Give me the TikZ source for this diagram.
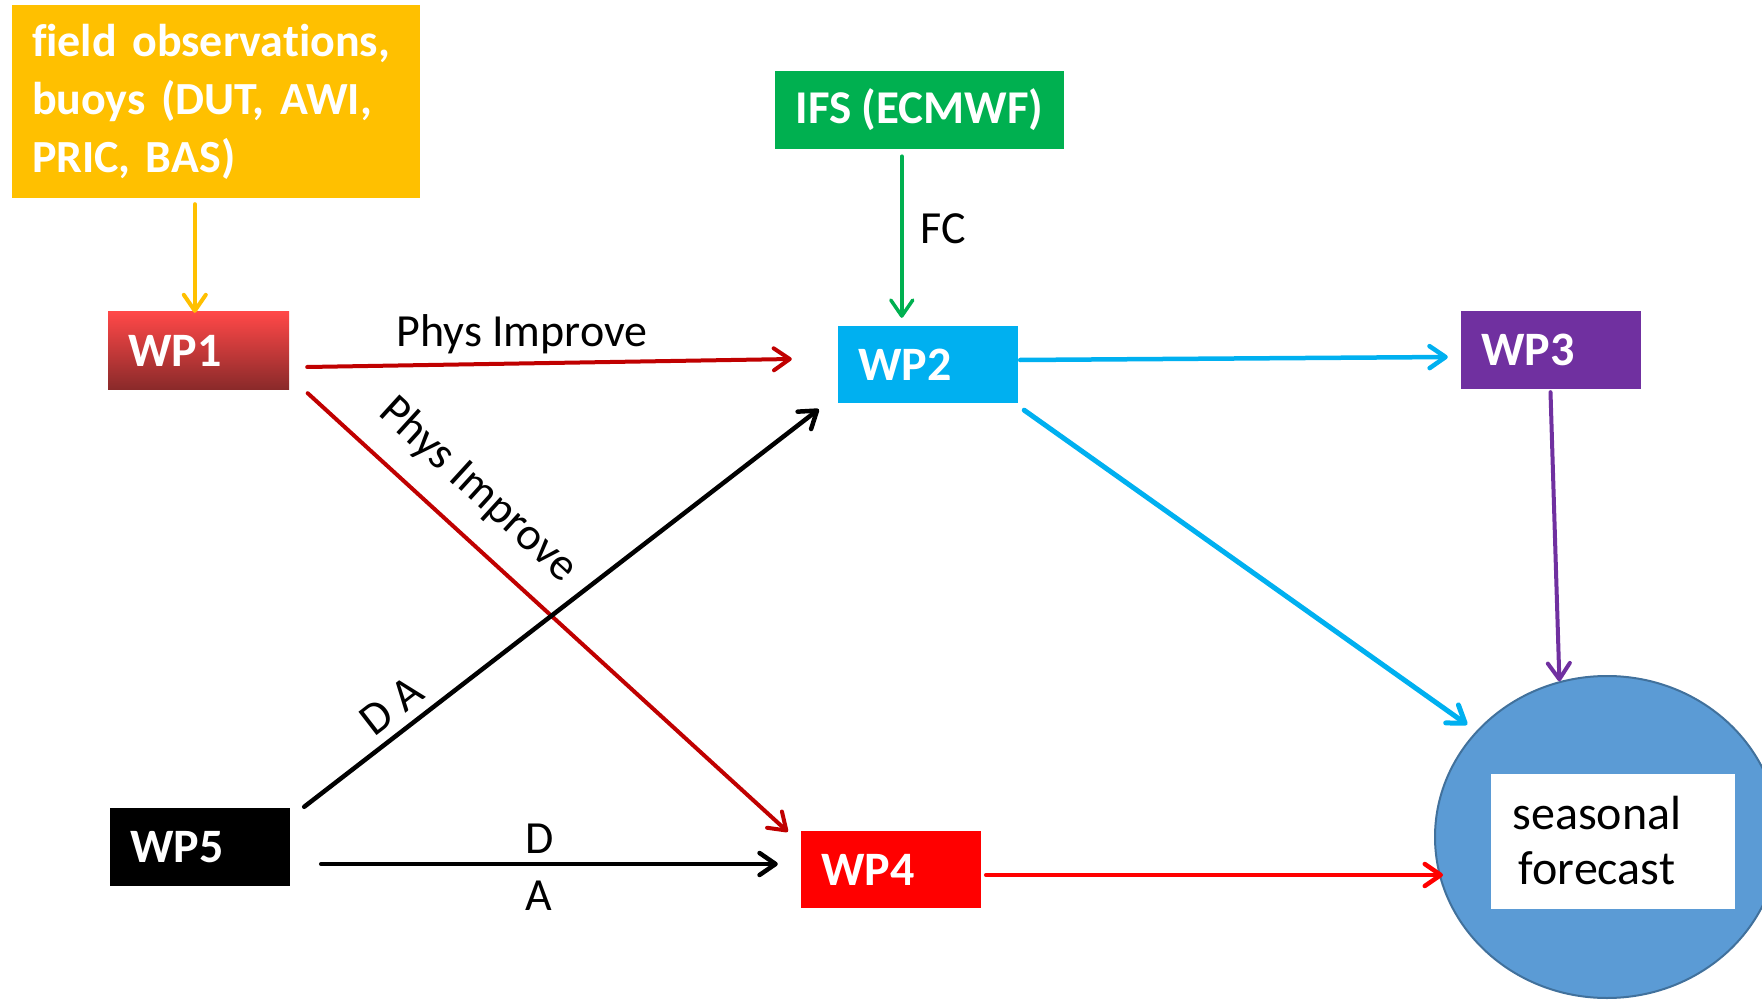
\documentclass[tikz,border=0pt]{standalone}
\usepackage{fontspec}
\setmainfont{Carlito}[Ligatures=NoCommon]
\usetikzlibrary{arrows.meta,calc,shapes.geometric}
\definecolor{cyellow}{HTML}{FFC000}
\definecolor{cgreen}{HTML}{00B050}
\definecolor{cblue}{HTML}{00B0F0}
\definecolor{cpurple}{HTML}{7030A0}
\definecolor{cred}{HTML}{FF0000}
\definecolor{cdarkred}{HTML}{C00000}
\definecolor{cwpatop}{HTML}{FF4848}
\definecolor{cwpamid}{HTML}{D83C3C}
\definecolor{cwpabot}{HTML}{8A2A2A}
\definecolor{ccircle}{HTML}{5B9BD5}
\definecolor{ccircleb}{HTML}{41719C}
\begin{document}
\begin{tikzpicture}[x=1pt,y=-1pt,
  wpbox/.style={rectangle, minimum width=180pt, minimum height=77pt, text width=140pt,
    inner xsep=20pt, inner ysep=0pt, align=left, text=white,
    font=\fontsize{48}{58}\selectfont\bfseries},
  conn/.style={line width=4.5pt, line cap=round,
    -{Straight Barb[length=16pt,width=22pt,line cap=round,line join=round]}},
  lbl/.style={font=\fontsize{46}{55}\selectfont, inner sep=0pt, text=black}
]
\path[fill=white] (0,0) rectangle (1762,1000);
\useasboundingbox (0,0) rectangle (1762,1000);

% nodes
\node[rectangle, fill=cyellow, minimum width=408pt, minimum height=193pt, text width=368pt,
  inner xsep=20pt, inner ysep=0pt, align=left, text=white,
  font=\fontsize{46}{58}\selectfont\bfseries] (obs) at (216,101.5)
  {field observations,\\buoys (DUT, AWI,\\PRIC, BAS)};
\node[wpbox, top color=cwpatop, middle color=cwpamid, bottom color=cwpabot, minimum width=181pt] (wp1) at (198.5,350.5) {WP1};
\node[rectangle, fill=cgreen, minimum width=289pt, minimum height=78pt, inner sep=0pt, text=white,
  font=\fontsize{47}{58}\selectfont\bfseries] (ifs) at (919.5,110) {IFS (ECMWF)};
\node[wpbox, fill=cblue] (wp2) at (928,364.5) {WP2};
\node[wpbox, fill=cpurple, minimum height=78pt] (wp3) at (1551,350) {WP3};
\node[wpbox, fill=cred] (wp4) at (891,869.5) {WP4};
\node[wpbox, fill=black, minimum height=78pt] (wp5) at (200,847) {WP5};
\node[ellipse, fill=ccircle, draw=ccircleb, line width=2pt, minimum width=344pt, minimum height=322pt, inner sep=0pt] (fc) at (1607,837) {};
\node[rectangle, fill=white, minimum width=244pt, minimum height=135pt, inner sep=0pt] (fcbox) at (1613,841.5) {};
\node[align=center, inner sep=0pt, font=\fontsize{48}{55}\selectfont] (fctext) at (1597,841) {seasonal\\forecast};

% connectors
\draw[conn, cyellow, line width=4pt] ($(obs.south west)+(183,6)$) -- ($(wp1.north west)+(87,1)$);
\draw[conn, cgreen, line width=3.5pt] ($(ifs.south west)+(127,7)$) -- ($(wp2.north west)+(64,-8)$)
  node[lbl, pos=0.45, anchor=west, xshift=17pt] (fclbl) {FC};
\draw[conn, cdarkred, line width=4pt] ($(wp1.east)+(18,16.5)$) -- ($(wp2.west)+(-46,-5.5)$);
\node[lbl, anchor=base] (pi1) at (522,347) {Phys Improve};
\draw[conn, cdarkred, line width=4pt] ($(wp1.south east)+(18.5,4)$) -- ($(wp4.north west)+(-13,1)$);
\node[lbl, rotate=-42.4] (pi2) at (478,490) {Phys Improve};
\draw[conn, black] ($(wp5.north east)+(14,-1)$) -- ($(wp2.south west)+(-19,6)$);
\node[lbl, rotate=37.7] (da) at (391.5,706) {D A};
\draw[conn, black] ($(wp5.east)+(31,17)$) -- ($(wp4.west)+(-23,-5.5)$);
\node[lbl, anchor=base] (dl) at (540,853) {D};
\node[lbl, anchor=base] (al) at (539,910) {A};
\draw[conn, cblue] ($(wp2.east)+(2,-4.5)$) -- ($(wp3.west)+(-13,7)$);
\draw[conn, cblue, line width=5pt, shorten >=11pt] ($(wp2.south east)+(6,7)$) -- (fc.141);
\draw[conn, cpurple, line width=4pt] ($(wp3.south)+(-0.5,3)$) -- (fc.107.5);
\draw[conn, cred] ($(wp4.east)+(5,5.5)$) -- ($(fc.center)+(-164,38)$);
\end{tikzpicture}
\end{document}
